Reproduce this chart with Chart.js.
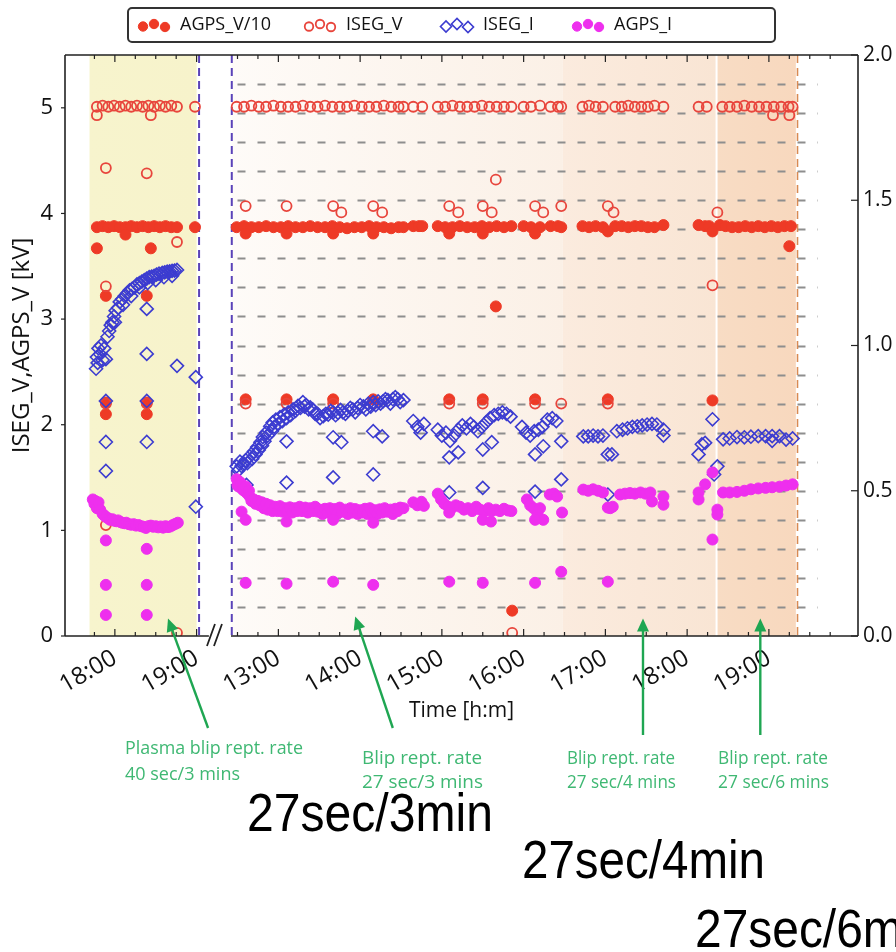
<!DOCTYPE html>
<html>
<head>
<meta charset="utf-8">
<script src="https://cdn.jsdelivr.net/npm/chart.js@4.4.1/dist/chart.umd.min.js"></script>
<style>
  html, body { margin: 0; padding: 0; background: #fff; }
  canvas { display: block; }
</style>
</head>
<body>
<canvas id="chart" width="896" height="952"></canvas>
<script>
// Two measurement days share one time axis: day 2 clock hours are shifted by 7 h
// so that 13:00 on day 2 sits one hour after 19:00 on day 1 (broken axis).
const DAY2_SHIFT = 7;
const toAxis = (day, h) => (day === 1 ? h : h + DAY2_SHIFT);

// x tick labels (clock hours)
const tickHours_d1 = [18, 19];
const tickHours_d2 = [13, 14, 15, 16, 17, 18, 19];
// left / right y ticks
const yTicksLeft = [0, 1, 2, 3, 4, 5];
const yTicksRight = [0, 0.5, 1.0, 1.5, 2.0];

const seriesNames = ['AGPS_V/10', 'ISEG_V', 'ISEG_I', 'AGPS_I'];

// [clock hour, kV] -- AGPS_V/10
const agpsV_d1 = [
  [17.78,3.87],[17.85,3.88],[17.92,3.87],[17.99,3.88],[18.06,3.87],[18.13,3.87],[18.20,3.88],[18.27,3.87],
  [18.34,3.88],[18.41,3.87],[18.48,3.88],[18.55,3.87],[18.62,3.88],[18.69,3.87],[18.76,3.87],
  [17.78,3.67],[18.44,3.67],[18.13,3.80],[17.89,3.22],[18.39,3.22],[17.89,2.21],[17.89,2.10],
  [18.39,2.21],[18.39,2.10],[18.98,3.87]
];
const agpsV_d2 = [
  [12.49,3.87],[12.58,3.88],[12.67,3.87],[12.76,3.87],[12.85,3.88],[12.94,3.87],[13.03,3.87],[13.12,3.88],
  [13.21,3.87],[13.30,3.87],[13.39,3.88],[13.48,3.87],[13.57,3.87],[13.66,3.88],[13.75,3.87],[13.84,3.86],
  [13.93,3.87],[14.02,3.87],[14.11,3.88],[14.20,3.87],[14.29,3.87],[14.38,3.86],[14.47,3.87],[14.53,3.87],
  [14.65,3.88],[14.72,3.88],[14.76,3.88],
  [14.95,3.88],[15.04,3.87],[15.13,3.87],[15.22,3.88],[15.31,3.87],[15.40,3.87],[15.49,3.88],[15.58,3.87],
  [15.67,3.88],[15.76,3.87],[15.85,3.88],
  [16.00,3.88],[16.09,3.87],[16.20,3.87],[16.33,3.88],[16.42,3.88],[16.46,3.87],
  [16.72,3.88],[16.80,3.87],[16.88,3.88],[16.97,3.87],
  [17.12,3.88],[17.20,3.88],[17.28,3.87],[17.36,3.88],[17.44,3.88],[17.52,3.87],[17.60,3.87],[17.71,3.89],
  [18.14,3.89],[18.22,3.88],[18.27,3.88],
  [18.40,3.89],[18.47,3.88],[18.55,3.87],[18.63,3.87],[18.71,3.88],[18.79,3.87],[18.87,3.88],[18.95,3.87],
  [19.03,3.88],[19.11,3.87],[19.19,3.88],[19.27,3.88],
  [12.60,3.81],[13.10,3.81],[13.67,3.81],[14.16,3.81],[15.09,3.81],[15.50,3.81],[16.14,3.81],[17.03,3.83],
  [18.31,3.83],[19.25,3.69],[15.66,3.12],[15.86,0.24],
  [12.60,2.24],[13.10,2.24],[13.67,2.24],[14.16,2.24],[15.09,2.24],[15.50,2.24],[16.14,2.24],[17.03,2.24],
  [18.31,2.23]
];

// [clock hour, kV] -- ISEG_V
const isegV_d1 = [
  [17.78,5.01],[17.85,5.02],[17.92,5.01],[17.99,5.02],[18.06,5.01],[18.13,5.02],[18.20,5.01],[18.27,5.02],
  [18.34,5.01],[18.41,5.02],[18.48,5.01],[18.55,5.02],[18.62,5.01],[18.69,5.02],[18.76,5.01],
  [17.78,4.93],[18.44,4.93],[17.89,4.43],[18.39,4.38],[18.76,3.73],[17.89,3.31],[17.89,2.20],[18.39,2.20],
  [17.89,1.05],[18.76,0.03],[18.98,5.01]
];
const isegV_d2 = [
  [12.49,5.01],[12.58,5.01],[12.67,5.02],[12.76,5.01],[12.85,5.01],[12.94,5.02],[13.03,5.01],[13.12,5.01],
  [13.21,5.01],[13.30,5.02],[13.39,5.01],[13.48,5.01],[13.57,5.02],[13.66,5.01],[13.75,5.01],[13.84,5.01],
  [13.93,5.02],[14.02,5.01],[14.11,5.01],[14.20,5.01],[14.29,5.02],[14.38,5.01],[14.47,5.01],[14.53,5.01],
  [14.65,5.01],[14.76,5.01],
  [14.95,5.01],[15.04,5.01],[15.13,5.02],[15.22,5.01],[15.31,5.01],[15.40,5.01],[15.49,5.02],[15.58,5.01],
  [15.67,5.01],[15.76,5.01],[15.85,5.01],
  [16.00,5.01],[16.09,5.01],[16.20,5.02],[16.33,5.01],[16.42,5.01],[16.46,5.01],
  [16.72,5.01],[16.80,5.02],[16.88,5.01],[16.97,5.01],
  [17.12,5.01],[17.20,5.01],[17.28,5.02],[17.36,5.01],[17.44,5.01],[17.52,5.01],[17.60,5.02],[17.71,5.01],
  [18.14,5.01],[18.24,5.01],
  [18.43,5.01],[18.52,5.01],[18.61,5.01],[18.70,5.02],[18.79,5.01],[18.88,5.01],[18.97,5.01],[19.06,5.01],
  [19.15,5.01],[19.24,5.01],[19.29,5.01],
  [19.05,4.93],[19.25,4.93],
  [12.60,4.07],[13.10,4.07],[13.67,4.07],[14.16,4.07],[15.09,4.07],[15.50,4.07],[16.14,4.07],[16.46,4.07],
  [17.03,4.07],[13.77,4.01],[14.27,4.01],[15.20,4.01],[15.61,4.01],[16.24,4.01],[17.10,4.01],[18.37,4.01],
  [15.66,4.32],[18.31,3.32],[15.86,0.03],
  [12.60,2.20],[13.10,2.20],[13.67,2.20],[14.16,2.20],[15.09,2.20],[15.50,2.20],[16.14,2.20],[16.46,2.20],
  [17.03,2.20]
];

// [clock hour, mA] -- ISEG_I (right axis)
const isegI_d1 = [
  [17.77,0.92],[17.78,0.96],[17.79,0.94],[17.80,0.99],[17.82,0.97],[17.83,1.00],[17.85,0.95],[17.87,0.99],
  [17.91,1.03],[17.93,1.05],[17.95,1.07],[17.97,1.08],[17.99,1.10],[18.01,1.12],[18.04,1.13],[18.06,1.15],
  [18.09,1.16],[18.12,1.17],[18.15,1.18],[18.18,1.19],[18.21,1.195],[18.24,1.20],[18.27,1.21],[18.30,1.215],
  [18.33,1.22],[18.36,1.225],[18.39,1.23],[18.42,1.235],[18.45,1.237],[18.48,1.24],[18.51,1.244],[18.54,1.247],
  [18.58,1.25],[18.61,1.252],[18.64,1.254],[18.67,1.255],[18.70,1.257],[18.73,1.258],[18.76,1.26],
  [18.00,1.08],[18.10,1.14],[18.20,1.17],[18.30,1.20],[18.40,1.215],[18.50,1.225],[18.60,1.235],[18.70,1.24],
  [18.39,1.126],[18.39,0.971],[18.76,0.93],[17.89,0.953],[17.89,0.809],[18.39,0.809],[17.89,0.668],
  [18.39,0.668],[17.89,0.568],[18.99,0.891],[18.99,0.445]
];
const isegI_d2 = [
  [12.49,0.584],[12.51,0.57],[12.53,0.60],[12.55,0.585],[12.57,0.59],[12.60,0.605],[12.62,0.595],[12.65,0.618],
  [12.68,0.61],[12.70,0.635],[12.72,0.625],[12.74,0.65],[12.76,0.64],[12.78,0.667],[12.80,0.655],[12.81,0.685],
  [12.83,0.67],[12.85,0.70],[12.87,0.69],[12.90,0.722],[12.92,0.705],[12.93,0.735],[12.95,0.72],[12.97,0.745],
  [13.00,0.73],[13.02,0.753],[13.05,0.74],[13.07,0.762],[13.10,0.75],[13.12,0.77],[13.15,0.76],[13.18,0.78],
  [13.21,0.775],[13.24,0.792],[13.27,0.785],[13.30,0.805],[13.32,0.79],[13.34,0.795],[13.37,0.78],[13.39,0.787],
  [13.42,0.78],[13.45,0.765],[13.48,0.765],[13.51,0.75],[13.55,0.757],[13.58,0.765],[13.61,0.762],[13.64,0.775],
  [13.67,0.77],[13.70,0.76],[13.73,0.768],[13.76,0.778],[13.79,0.77],[13.82,0.765],[13.85,0.775],[13.88,0.785],
  [13.91,0.78],[13.94,0.77],[13.97,0.785],[14.00,0.795],[14.04,0.79],[14.07,0.78],[14.10,0.80],[14.13,0.79],
  [14.16,0.805],[14.19,0.795],[14.22,0.808],[14.25,0.80],[14.28,0.808],[14.31,0.815],[14.34,0.812],[14.37,0.80],
  [14.40,0.815],[14.43,0.822],[14.46,0.815],[14.49,0.805],[14.53,0.812],
  [12.61,0.52],[13.10,0.67],[13.10,0.528],[13.67,0.684],[13.77,0.667],[13.67,0.546],[14.16,0.705],[14.27,0.687],
  [14.16,0.556],
  [14.65,0.74],[14.70,0.72],[14.74,0.70],[14.78,0.73],
  [14.95,0.71],[15.00,0.69],[15.05,0.70],[15.10,0.672],[15.15,0.69],[15.20,0.71],[15.25,0.725],[15.30,0.715],
  [15.35,0.73],[15.39,0.72],[15.44,0.705],[15.49,0.72],[15.54,0.735],[15.59,0.75],[15.64,0.76],[15.69,0.765],
  [15.74,0.77],[15.79,0.765],[15.84,0.755],
  [15.09,0.615],[15.20,0.632],[15.50,0.642],[15.61,0.667],[15.09,0.494],[15.50,0.51],
  [15.98,0.72],[16.03,0.70],[16.08,0.69],[16.13,0.705],[16.18,0.71],[16.23,0.72],[16.29,0.745],[16.35,0.75],
  [16.40,0.74],[16.14,0.625],[16.24,0.653],[16.14,0.497],[16.46,0.67],[16.46,0.539],
  [16.73,0.687],[16.79,0.687],[16.85,0.69],[16.91,0.687],[16.97,0.69],[17.03,0.625],[17.08,0.625],[17.03,0.487],
  [17.14,0.705],[17.21,0.71],[17.27,0.715],[17.33,0.72],[17.39,0.722],[17.45,0.725],[17.51,0.728],[17.57,0.73],
  [17.63,0.728],[17.71,0.71],[17.71,0.69],
  [18.14,0.625],[18.18,0.66],[18.22,0.665],[18.31,0.746],[18.37,0.584],[18.33,0.556],
  [18.44,0.677],[18.52,0.68],[18.61,0.685],[18.70,0.684],[18.78,0.686],[18.87,0.688],[18.96,0.688],[19.04,0.672],
  [19.04,0.688],[19.13,0.688],[19.21,0.676],[19.29,0.68]
];

// [clock hour, mA] -- AGPS_I (right axis)
const agpsI_d1 = [
  [17.73,0.47],[17.75,0.455],[17.76,0.465],[17.78,0.44],[17.80,0.46],[17.82,0.435],[17.85,0.42],[17.87,0.415],
  [17.89,0.41],[17.92,0.405],[17.94,0.40],[17.97,0.402],[17.99,0.397],[18.02,0.395],[18.04,0.398],[18.07,0.392],
  [18.09,0.39],[18.12,0.388],[18.14,0.39],[18.17,0.385],[18.20,0.383],[18.23,0.385],[18.26,0.38],[18.29,0.382],
  [18.32,0.378],[18.35,0.376],[18.38,0.372],[18.41,0.378],[18.44,0.38],[18.47,0.376],[18.50,0.378],[18.53,0.374],
  [18.56,0.377],[18.59,0.373],[18.62,0.378],[18.65,0.375],[18.68,0.377],[18.71,0.382],[18.74,0.386],[18.77,0.39],
  [17.89,0.329],[18.39,0.30],[17.89,0.176],[18.39,0.176],[17.89,0.0725],[18.39,0.0725]
];
const agpsI_d2 = [
  [12.49,0.54],[12.50,0.52],[12.51,0.515],[12.53,0.53],[12.54,0.525],[12.56,0.505],[12.58,0.50],[12.60,0.515],
  [12.62,0.49],[12.64,0.50],[12.65,0.48],[12.67,0.465],[12.70,0.47],[12.72,0.455],[12.75,0.465],[12.77,0.45],
  [12.80,0.46],[12.82,0.44],[12.85,0.455],[12.87,0.435],[12.90,0.45],[12.93,0.43],[12.96,0.445],[12.99,0.43],
  [13.02,0.447],[13.05,0.428],[13.08,0.44],[13.11,0.43],[13.14,0.443],[13.17,0.425],[13.20,0.44],[13.23,0.43],
  [13.26,0.445],[13.29,0.43],[13.33,0.442],[13.36,0.425],[13.39,0.44],[13.42,0.43],[13.45,0.445],[13.48,0.428],
  [13.51,0.435],[13.54,0.42],[13.57,0.438],[13.60,0.425],[13.63,0.44],[13.66,0.43],[13.69,0.437],[13.72,0.42],
  [13.75,0.442],[13.78,0.428],[13.82,0.435],[13.85,0.42],[13.88,0.44],[13.91,0.425],[13.94,0.437],[13.97,0.42],
  [14.00,0.433],[14.03,0.425],[14.06,0.438],[14.09,0.42],[14.12,0.44],[14.15,0.425],[14.18,0.433],[14.21,0.42],
  [14.24,0.436],[14.27,0.425],[14.30,0.44],[14.33,0.428],[14.37,0.435],[14.40,0.42],[14.43,0.438],[14.46,0.43],
  [14.49,0.442],[14.53,0.44],
  [12.55,0.428],[12.60,0.40],[13.10,0.394],[13.67,0.40],[14.16,0.39],
  [12.60,0.183],[13.10,0.18],[13.67,0.187],[14.16,0.176],
  [14.65,0.46],[14.70,0.45],[14.75,0.462],[14.78,0.448],
  [14.95,0.49],[14.99,0.47],[15.03,0.455],[15.08,0.445],[15.12,0.44],[15.17,0.45],[15.22,0.445],[15.27,0.435],
  [15.32,0.44],[15.37,0.43],[15.42,0.445],[15.47,0.435],[15.52,0.43],[15.57,0.44],[15.61,0.43],[15.66,0.435],
  [15.71,0.43],[15.76,0.438],[15.81,0.432],[15.85,0.43],
  [15.09,0.425],[15.50,0.40],[15.60,0.394],[15.09,0.187],[15.50,0.183],
  [16.04,0.47],[16.08,0.45],[16.12,0.44],[16.17,0.42],[16.20,0.44],[16.24,0.40],[16.32,0.487],[16.37,0.49],
  [16.41,0.48],[16.47,0.425],[16.14,0.40],[16.14,0.183],[16.46,0.221],
  [16.73,0.504],[16.79,0.50],[16.85,0.505],[16.91,0.50],[16.97,0.494],[17.03,0.442],[17.06,0.44],[17.09,0.445],
  [17.03,0.187],
  [17.18,0.487],[17.24,0.49],[17.30,0.492],[17.36,0.49],[17.43,0.494],[17.49,0.49],[17.55,0.494],[17.57,0.463],
  [17.71,0.48],[17.71,0.452],
  [18.14,0.494],[18.14,0.47],[18.22,0.522],[18.31,0.563],[18.37,0.435],[18.37,0.418],[18.31,0.332],
  [18.44,0.494],[18.52,0.494],[18.61,0.496],[18.70,0.50],[18.78,0.505],[18.87,0.508],[18.96,0.51],[19.04,0.512],
  [19.13,0.514],[19.21,0.518],[19.29,0.522]
];

const points = (d1, d2) => [
  ...d1.map(([h, v]) => ({ x: toAxis(1, h), y: v })),
  ...d2.map(([h, v]) => ({ x: toAxis(2, h), y: v }))
];

const RED = '#ee3a26';
const RED_OPEN = '#e8453c';
const BLUE = '#3c3cd0';
const MAGENTA = '#ee2fee';
const GREEN_ARROW = '#1fa652';
const GREEN_TEXT = '#3fb873';
const FONT = "'Open Sans', sans-serif";

Chart.defaults.font.family = FONT;
Chart.defaults.color = '#111';

// shaded runs, boundary lines and the day-2 dashed grid, drawn behind the points
const backdrop = {
  id: 'backdrop',
  beforeDatasetsDraw(chart) {
    const { ctx, chartArea: a, scales: { x, y2 } } = chart;
    const X = (day, h) => x.getPixelForValue(toAxis(day, h));
    ctx.save();
    const span = (x0, x1, c0, c1) => {
      const g = ctx.createLinearGradient(x0, 0, x1, 0);
      g.addColorStop(0, c0);
      g.addColorStop(1, c1);
      ctx.fillStyle = g;
      ctx.fillRect(x0, a.top, x1 - x0, a.bottom - a.top);
    };
    span(X(1, 17.69), X(1, 19.0), '#f7f4cd', '#f7f3cb');
    span(X(2, 12.43), X(2, 16.48), '#fefbf8', '#fbf0e6');
    span(X(2, 16.48), X(2, 18.36), '#fbebde', '#f9e5d4');
    ctx.fillStyle = '#fff';
    ctx.fillRect(X(2, 18.36) - 1, a.top, 2, a.bottom - a.top);
    span(X(2, 18.36) + 1, X(2, 19.33), '#f8dcc4', '#f8d8be');

    // dashed horizontal guides every 0.1 of the right axis
    ctx.strokeStyle = '#8e8e8e';
    ctx.lineWidth = 2;
    ctx.setLineDash([8, 12]);
    for (let i = 1; i < 20; i++) {
      const yy = Math.round(y2.getPixelForValue(i / 10)) + 0.5;
      ctx.beginPath();
      ctx.moveTo(X(2, 12.5), yy);
      ctx.lineTo(X(2, 19.6), yy);
      ctx.stroke();
    }

    // run boundaries
    ctx.lineWidth = 2;
    ctx.setLineDash([8, 5]);
    ctx.strokeStyle = '#5a42b8';
    [X(1, 19.03), X(2, 12.43)].forEach(xx => {
      ctx.beginPath();
      ctx.moveTo(xx, a.top);
      ctx.lineTo(xx, a.bottom);
      ctx.stroke();
    });
    ctx.strokeStyle = '#d98a52';
    ctx.lineWidth = 1.6;
    const xo = X(2, 19.35);
    ctx.beginPath();
    ctx.moveTo(xo, a.top);
    ctx.lineTo(xo, a.bottom);
    ctx.stroke();
    ctx.restore();
  }
};

function arrow(ctx, x1, y1, x2, y2) {
  const ang = Math.atan2(y2 - y1, x2 - x1);
  const L = 13, W = 6;
  ctx.beginPath();
  ctx.moveTo(x1, y1);
  ctx.lineTo(x2 - Math.cos(ang) * L * 0.8, y2 - Math.sin(ang) * L * 0.8);
  ctx.stroke();
  ctx.beginPath();
  ctx.moveTo(x2, y2);
  ctx.lineTo(x2 - Math.cos(ang) * L + Math.sin(ang) * W, y2 - Math.sin(ang) * L - Math.cos(ang) * W);
  ctx.lineTo(x2 - Math.cos(ang) * L - Math.sin(ang) * W, y2 - Math.sin(ang) * L + Math.cos(ang) * W);
  ctx.closePath();
  ctx.fill();
}

// text squeezed or stretched horizontally to a given width
function fitText(ctx, text, x, y, width) {
  const w = ctx.measureText(text).width;
  ctx.save();
  ctx.translate(x, y);
  ctx.scale(width / w, 1);
  ctx.fillText(text, 0, 0);
  ctx.restore();
}

// frame, inward ticks, axis break, legend and notes
const frame = {
  id: 'frame',
  afterDraw(chart) {
    const { ctx, chartArea: a, scales: { x, y2 } } = chart;
    const X = (day, h) => x.getPixelForValue(toAxis(day, h));
    ctx.save();
    ctx.strokeStyle = '#222';
    ctx.lineWidth = 1.6;
    ctx.setLineDash([]);
    ctx.beginPath();
    ctx.moveTo(a.left, a.top); ctx.lineTo(a.right, a.top);
    ctx.moveTo(a.left, a.top); ctx.lineTo(a.left, a.bottom);
    ctx.moveTo(a.right, a.top); ctx.lineTo(a.right, a.bottom);
    ctx.moveTo(a.left, a.bottom); ctx.lineTo(X(1, 19.15), a.bottom);
    ctx.moveTo(X(2, 12.42), a.bottom); ctx.lineTo(a.right, a.bottom);
    ctx.stroke();

    // axis break
    ctx.lineWidth = 1.8;
    const xb = X(1, 19.2);
    ctx.beginPath();
    ctx.moveTo(xb - 6, a.bottom + 10); ctx.lineTo(xb + 2, a.bottom - 12);
    ctx.moveTo(xb + 1, a.bottom + 10); ctx.lineTo(xb + 9, a.bottom - 12);
    ctx.stroke();

    // x ticks, top and bottom, pointing inward
    ctx.lineWidth = 1.2;
    const tick = (xx, len) => {
      ctx.beginPath();
      ctx.moveTo(xx, a.bottom); ctx.lineTo(xx, a.bottom - len);
      ctx.moveTo(xx, a.top); ctx.lineTo(xx, a.top + len);
      ctx.stroke();
    };
    for (let q = 0; q < 6; q++) {
      const h = 17.75 + q * 0.25;
      tick(X(1, h), Number.isInteger(h) ? 7 : 4);
    }
    for (let q = 0; q < 30; q++) {
      const h = 12.5 + q * 0.25;
      tick(X(2, h), Number.isInteger(h) ? 7 : 4);
    }
    // right axis ticks
    yTicksRight.forEach(v => {
      const yy = y2.getPixelForValue(v);
      ctx.beginPath();
      ctx.moveTo(a.right, yy); ctx.lineTo(a.right - 7, yy);
      ctx.stroke();
    });
    // left axis ticks
    yTicksLeft.forEach(v => {
      const yy = chart.scales.y.getPixelForValue(v);
      ctx.beginPath();
      ctx.moveTo(a.left, yy); ctx.lineTo(a.left - 4, yy);
      ctx.stroke();
    });

    // legend
    ctx.fillStyle = '#fff';
    ctx.strokeStyle = '#333';
    ctx.lineWidth = 2;
    ctx.beginPath();
    ctx.roundRect(128, 8, 647, 34, 4);
    ctx.fill();
    ctx.stroke();
    const slots = [143, 309, 446, 577];
    const offs = [1.5, -1, 2];
    ctx.font = `18px ${FONT}`;
    ctx.textBaseline = 'middle';
    chart.data.datasets.forEach((ds, i) => {
      for (let k = 0; k < 3; k++) {
        ctx.fillStyle = ds.backgroundColor;
        ctx.strokeStyle = ds.borderColor;
        ctx.lineWidth = ds.borderWidth;
        Chart.helpers.drawPoint(ctx, {
          pointStyle: ds.pointStyle, radius: ds.pointRadius * 0.85, rotation: 0, borderWidth: ds.borderWidth
        }, slots[i] + k * 11, 25 + offs[k]);
      }
      ctx.fillStyle = '#111';
      ctx.fillText(ds.label, slots[i] + 37, 25);
    });

    // green notes and arrows
    ctx.strokeStyle = GREEN_ARROW;
    ctx.fillStyle = GREEN_ARROW;
    ctx.lineWidth = 2.4;
    const yHead = y2.getPixelForValue(0.06);
    arrow(ctx, X(1, 19.14), 728, X(1, 18.65), yHead);
    arrow(ctx, X(2, 14.40), 728, X(2, 13.94), yHead - 2);
    arrow(ctx, X(2, 17.46), 735, X(2, 17.46), yHead);
    arrow(ctx, X(2, 18.895), 735, X(2, 18.895), yHead);

    ctx.fillStyle = GREEN_TEXT;
    ctx.font = `18px ${FONT}`;
    ctx.textBaseline = 'alphabetic';
    fitText(ctx, 'Plasma blip rept. rate', 125, 754, 178);
    fitText(ctx, '40 sec/3 mins', 125, 780, 115);
    [[362, 120], [567, 108], [718, 110]].forEach(([lx, w], i) => {
      fitText(ctx, 'Blip rept. rate', lx, 764, w);
      fitText(ctx, ['27 sec/3 mins', '27 sec/4 mins', '27 sec/6 mins'][i], lx, 788, w + 1);
    });

    ctx.fillStyle = '#000';
    ctx.font = "53px 'Liberation Sans', Arial, sans-serif";
    fitText(ctx, '27sec/3min', 247, 831, 246);
    fitText(ctx, '27sec/4min', 522, 878, 243);
    fitText(ctx, '27sec/6min', 695, 947, 245);
    ctx.restore();
  }
};

new Chart(document.getElementById('chart'), {
  type: 'scatter',
  data: {
    datasets: [
      {
        label: seriesNames[0], data: points(agpsV_d1, agpsV_d2), yAxisID: 'y', order: 4,
        pointStyle: 'circle', pointRadius: 5.5, backgroundColor: RED, borderColor: RED, borderWidth: 1
      },
      {
        label: seriesNames[1], data: points(isegV_d1, isegV_d2), yAxisID: 'y', order: 3,
        pointStyle: 'circle', pointRadius: 5, backgroundColor: 'rgba(0,0,0,0)', borderColor: RED_OPEN, borderWidth: 1.8
      },
      {
        label: seriesNames[2], data: points(isegI_d1, isegI_d2), yAxisID: 'y2', order: 2,
        pointStyle: 'rectRot', pointRadius: 6.5, backgroundColor: 'rgba(0,0,0,0)', borderColor: BLUE, borderWidth: 1.6
      },
      {
        label: seriesNames[3], data: points(agpsI_d1, agpsI_d2), yAxisID: 'y2', order: 1,
        pointStyle: 'circle', pointRadius: 5.5, backgroundColor: MAGENTA, borderColor: MAGENTA, borderWidth: 1
      }
    ]
  },
  options: {
    responsive: false,
    animation: false,
    devicePixelRatio: 1,
    layout: { padding: { top: 55, bottom: 224, left: 0, right: 0 } },
    plugins: { legend: { display: false }, tooltip: { enabled: false } },
    elements: { point: { hoverRadius: 0 } },
    scales: {
      x: {
        type: 'linear',
        min: 17.39,
        max: 27.09,
        grid: { display: false, drawTicks: false },
        border: { display: false },
        afterBuildTicks: s => {
          s.ticks = [
            ...tickHours_d1.map(h => ({ value: toAxis(1, h) })),
            ...tickHours_d2.map(h => ({ value: toAxis(2, h) }))
          ];
        },
        afterFit: s => { s.height = 92; },
        ticks: {
          minRotation: 30,
          maxRotation: 30,
          padding: 8,
          autoSkip: false,
          font: { size: 24 },
          color: '#111',
          callback: v => (v < 19.5 ? v : v - DAY2_SHIFT) + ':00'
        },
        title: { display: true, text: 'Time [h:m]', font: { size: 21 }, color: '#111', padding: { top: 0, bottom: 4 } }
      },
      y: {
        position: 'left',
        min: 0,
        max: 5.5,
        grid: { display: false, drawTicks: false },
        border: { display: false },
        afterBuildTicks: s => { s.ticks = yTicksLeft.map(v => ({ value: v })); },
        afterFit: s => { s.width = 65; },
        ticks: { font: { size: 22 }, color: '#111', padding: 12 },
        title: { display: true, text: 'ISEG_V,AGPS_V [kV]', font: { size: 24 }, color: '#111', padding: { top: 8, bottom: 0 } }
      },
      y2: {
        position: 'right',
        min: 0,
        max: 2,
        grid: { display: false, drawTicks: false },
        border: { display: false },
        afterBuildTicks: s => { s.ticks = yTicksRight.map(v => ({ value: v })); },
        afterFit: s => { s.width = 38; },
        ticks: { font: { size: 21 }, color: '#111', padding: 5, callback: v => v.toFixed(1) }
      }
    }
  },
  plugins: [backdrop, frame]
});
</script>
</body>
</html>
